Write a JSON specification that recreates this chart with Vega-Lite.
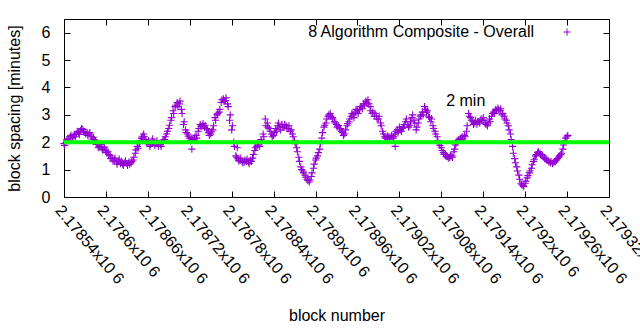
{
 "$schema": "https://vega.github.io/schema/vega-lite/v6.json",
 "width": 545,
 "height": 178,
 "autosize": {"type": "none"},
 "padding": {"left": 64, "top": 19, "right": 31, "bottom": 133},
 "background": "white",
 "config": {
  "font": "Liberation Sans",
  "view": {"stroke": "black", "strokeWidth": 1},
  "axis": {"grid": false, "domain": false, "tickColor": "black", "tickSize": -6, "labelColor": "black", "titleColor": "black", "labelFontSize": 16, "titleFontSize": 16, "titleFontWeight": "normal", "labelFont": "Liberation Sans", "titleFont": "Liberation Sans"},
  "legend": {"labelFont": "Liberation Sans", "labelFontSize": 16, "labelColor": "black"}
 },
 "layer": [
  {
   "data": {"values": [
  {"block":2178540,"spacing":1.95},{"block":2178543,"spacing":2.0},{"block":2178546,"spacing":2.12},{"block":2178549,"spacing":2.2},{"block":2178552,"spacing":2.15},{"block":2178555,"spacing":2.28},{"block":2178558,"spacing":2.3},{"block":2178561,"spacing":2.35},{"block":2178564,"spacing":2.42},{"block":2178567,"spacing":2.47},{"block":2178570,"spacing":2.38},{"block":2178573,"spacing":2.35},{"block":2178576,"spacing":2.3},{"block":2178579,"spacing":2.22},{"block":2178582,"spacing":2.18},{"block":2178585,"spacing":2.05},{"block":2178588,"spacing":1.95},{"block":2178591,"spacing":1.85},{"block":2178594,"spacing":1.8},{"block":2178597,"spacing":1.75},{"block":2178600,"spacing":1.7},{"block":2178603,"spacing":1.65},{"block":2178606,"spacing":1.5},{"block":2178609,"spacing":1.42},{"block":2178612,"spacing":1.35},{"block":2178615,"spacing":1.28},{"block":2178618,"spacing":1.3},{"block":2178621,"spacing":1.22},{"block":2178624,"spacing":1.2},{"block":2178627,"spacing":1.25},{"block":2178630,"spacing":1.22},{"block":2178633,"spacing":1.28},{"block":2178636,"spacing":1.25},{"block":2178639,"spacing":1.35},{"block":2178642,"spacing":1.6},{"block":2178645,"spacing":1.85},{"block":2178648,"spacing":1.95},{"block":2178651,"spacing":2.15},{"block":2178654,"spacing":2.3},{"block":2178657,"spacing":2.1},{"block":2178660,"spacing":1.95},{"block":2178663,"spacing":1.85},{"block":2178666,"spacing":2.05},{"block":2178669,"spacing":2.0},{"block":2178672,"spacing":1.95},{"block":2178675,"spacing":1.85},{"block":2178678,"spacing":1.92},{"block":2178681,"spacing":2.0},{"block":2178684,"spacing":2.1},{"block":2178687,"spacing":2.3},{"block":2178690,"spacing":2.5},{"block":2178693,"spacing":2.8},{"block":2178696,"spacing":3.15},{"block":2178699,"spacing":3.3},{"block":2178702,"spacing":3.45},{"block":2178705,"spacing":3.4},{"block":2178708,"spacing":3.2},{"block":2178711,"spacing":2.65},{"block":2178714,"spacing":2.45},{"block":2178717,"spacing":2.3},{"block":2178720,"spacing":2.15},{"block":2178723,"spacing":2.15},{"block":2178723,"spacing":1.75},{"block":2178726,"spacing":2.1},{"block":2178729,"spacing":2.25},{"block":2178732,"spacing":2.4},{"block":2178735,"spacing":2.65},{"block":2178738,"spacing":2.6},{"block":2178741,"spacing":2.55},{"block":2178744,"spacing":2.5},{"block":2178747,"spacing":2.35},{"block":2178750,"spacing":2.3},{"block":2178753,"spacing":2.45},{"block":2178756,"spacing":2.9},{"block":2178759,"spacing":3.0},{"block":2178762,"spacing":3.1},{"block":2178765,"spacing":3.45},{"block":2178768,"spacing":3.58},{"block":2178771,"spacing":3.52},{"block":2178774,"spacing":3.4},{"block":2178777,"spacing":2.8},{"block":2178780,"spacing":2.45},{"block":2178783,"spacing":2.0},{"block":2178786,"spacing":1.5},{"block":2178788,"spacing":1.8},{"block":2178789,"spacing":1.4},{"block":2178792,"spacing":1.35},{"block":2178795,"spacing":1.3},{"block":2178798,"spacing":1.27},{"block":2178801,"spacing":1.3},{"block":2178804,"spacing":1.28},{"block":2178807,"spacing":1.35},{"block":2178810,"spacing":1.42},{"block":2178813,"spacing":1.7},{"block":2178816,"spacing":1.85},{"block":2178819,"spacing":1.95},{"block":2178822,"spacing":2.1},{"block":2178825,"spacing":2.3},{"block":2178828,"spacing":2.85},{"block":2178831,"spacing":2.7},{"block":2178834,"spacing":2.5},{"block":2178837,"spacing":2.3},{"block":2178840,"spacing":2.25},{"block":2178843,"spacing":2.5},{"block":2178846,"spacing":2.6},{"block":2178849,"spacing":2.55},{"block":2178852,"spacing":2.65},{"block":2178855,"spacing":2.55},{"block":2178858,"spacing":2.6},{"block":2178861,"spacing":2.5},{"block":2178864,"spacing":2.4},{"block":2178867,"spacing":2.3},{"block":2178870,"spacing":2.05},{"block":2178873,"spacing":1.8},{"block":2178876,"spacing":1.45},{"block":2178879,"spacing":1.1},{"block":2178882,"spacing":0.95},{"block":2178885,"spacing":0.8},{"block":2178888,"spacing":0.65},{"block":2178891,"spacing":0.55},{"block":2178894,"spacing":0.75},{"block":2178897,"spacing":1.05},{"block":2178900,"spacing":1.35},{"block":2178903,"spacing":1.5},{"block":2178906,"spacing":1.75},{"block":2178909,"spacing":2.15},{"block":2178912,"spacing":2.55},{"block":2178915,"spacing":2.7},{"block":2178918,"spacing":2.95},{"block":2178921,"spacing":3.05},{"block":2178924,"spacing":2.9},{"block":2178927,"spacing":2.75},{"block":2178930,"spacing":2.65},{"block":2178933,"spacing":2.6},{"block":2178936,"spacing":2.5},{"block":2178939,"spacing":2.35},{"block":2178942,"spacing":2.3},{"block":2178945,"spacing":2.6},{"block":2178948,"spacing":2.75},{"block":2178951,"spacing":2.95},{"block":2178954,"spacing":3.0},{"block":2178957,"spacing":3.1},{"block":2178960,"spacing":3.15},{"block":2178963,"spacing":3.2},{"block":2178966,"spacing":3.3},{"block":2178969,"spacing":3.4},{"block":2178972,"spacing":3.5},{"block":2178975,"spacing":3.55},{"block":2178978,"spacing":3.3},{"block":2178981,"spacing":3.05},{"block":2178984,"spacing":2.95},{"block":2178987,"spacing":2.95},{"block":2178990,"spacing":2.85},{"block":2178993,"spacing":2.7},{"block":2178996,"spacing":2.4},{"block":2178999,"spacing":2.2},{"block":2179002,"spacing":2.15},{"block":2179005,"spacing":2.2},{"block":2179008,"spacing":2.2},{"block":2179011,"spacing":2.15},{"block":2179014,"spacing":2.3},{"block":2179014,"spacing":1.85},{"block":2179017,"spacing":2.45},{"block":2179020,"spacing":2.55},{"block":2179023,"spacing":2.4},{"block":2179026,"spacing":2.55},{"block":2179029,"spacing":2.75},{"block":2179032,"spacing":2.65},{"block":2179035,"spacing":2.6},{"block":2179038,"spacing":2.9},{"block":2179041,"spacing":2.8},{"block":2179044,"spacing":2.45},{"block":2179047,"spacing":2.7},{"block":2179050,"spacing":2.95},{"block":2179053,"spacing":3.1},{"block":2179056,"spacing":3.3},{"block":2179059,"spacing":3.1},{"block":2179062,"spacing":2.95},{"block":2179065,"spacing":2.75},{"block":2179068,"spacing":2.6},{"block":2179071,"spacing":2.4},{"block":2179074,"spacing":2.2},{"block":2179077,"spacing":1.95},{"block":2179080,"spacing":1.8},{"block":2179083,"spacing":1.62},{"block":2179086,"spacing":1.55},{"block":2179089,"spacing":1.48},{"block":2179092,"spacing":1.45},{"block":2179095,"spacing":1.5},{"block":2179098,"spacing":1.65},{"block":2179100,"spacing":1.9},{"block":2179101,"spacing":1.95},{"block":2179104,"spacing":2.05},{"block":2179107,"spacing":2.15},{"block":2179110,"spacing":2.2},{"block":2179113,"spacing":2.25},{"block":2179116,"spacing":2.4},{"block":2179119,"spacing":3.05},{"block":2179122,"spacing":2.9},{"block":2179125,"spacing":2.75},{"block":2179128,"spacing":2.7},{"block":2179131,"spacing":2.65},{"block":2179134,"spacing":2.75},{"block":2179137,"spacing":2.85},{"block":2179140,"spacing":2.9},{"block":2179143,"spacing":2.7},{"block":2179146,"spacing":2.6},{"block":2179149,"spacing":2.85},{"block":2179152,"spacing":2.95},{"block":2179155,"spacing":3.1},{"block":2179158,"spacing":3.2},{"block":2179161,"spacing":3.25},{"block":2179164,"spacing":3.15},{"block":2179167,"spacing":3.0},{"block":2179170,"spacing":2.95},{"block":2179173,"spacing":2.8},{"block":2179176,"spacing":2.6},{"block":2179179,"spacing":2.3},{"block":2179182,"spacing":1.85},{"block":2179185,"spacing":1.4},{"block":2179188,"spacing":1.1},{"block":2179191,"spacing":0.8},{"block":2179194,"spacing":0.5},{"block":2179197,"spacing":0.42},{"block":2179200,"spacing":0.5},{"block":2179203,"spacing":0.7},{"block":2179206,"spacing":0.88},{"block":2179209,"spacing":1.05},{"block":2179212,"spacing":1.3},{"block":2179215,"spacing":1.5},{"block":2179218,"spacing":1.62},{"block":2179221,"spacing":1.6},{"block":2179224,"spacing":1.55},{"block":2179227,"spacing":1.45},{"block":2179230,"spacing":1.38},{"block":2179233,"spacing":1.32},{"block":2179236,"spacing":1.25},{"block":2179239,"spacing":1.22},{"block":2179242,"spacing":1.3},{"block":2179245,"spacing":1.35},{"block":2179248,"spacing":1.45},{"block":2179251,"spacing":1.55},{"block":2179254,"spacing":1.75},{"block":2179257,"spacing":2.05},{"block":2179260,"spacing":2.2},
  {"block":2178541,"spacing":1.88},{"block":2178544,"spacing":2.1},{"block":2178547,"spacing":2.05},{"block":2178550,"spacing":2.25},{"block":2178553,"spacing":2.22},{"block":2178556,"spacing":2.2},{"block":2178559,"spacing":2.4},{"block":2178562,"spacing":2.28},{"block":2178565,"spacing":2.5},{"block":2178568,"spacing":2.38},{"block":2178571,"spacing":2.3},{"block":2178574,"spacing":2.25},{"block":2178577,"spacing":2.35},{"block":2178580,"spacing":2.12},{"block":2178583,"spacing":2.1},{"block":2178586,"spacing":1.92},{"block":2178589,"spacing":1.8},{"block":2178592,"spacing":1.92},{"block":2178595,"spacing":1.72},{"block":2178598,"spacing":1.82},{"block":2178601,"spacing":1.62},{"block":2178604,"spacing":1.55},{"block":2178607,"spacing":1.4},{"block":2178610,"spacing":1.32},{"block":2178613,"spacing":1.42},{"block":2178616,"spacing":1.2},{"block":2178619,"spacing":1.38},{"block":2178622,"spacing":1.3},{"block":2178625,"spacing":1.15},{"block":2178628,"spacing":1.32},{"block":2178631,"spacing":1.15},{"block":2178634,"spacing":1.2},{"block":2178637,"spacing":1.3},{"block":2178640,"spacing":1.45},{"block":2178643,"spacing":1.72},{"block":2178646,"spacing":1.78},{"block":2178649,"spacing":2.05},{"block":2178652,"spacing":2.22},{"block":2178655,"spacing":2.2},{"block":2178658,"spacing":2.0},{"block":2178661,"spacing":2.05},{"block":2178664,"spacing":1.92},{"block":2178667,"spacing":2.12},{"block":2178670,"spacing":1.88},{"block":2178673,"spacing":2.05},{"block":2178676,"spacing":1.95},{"block":2178679,"spacing":1.85},{"block":2178682,"spacing":2.08},{"block":2178685,"spacing":2.2},{"block":2178688,"spacing":2.4},{"block":2178691,"spacing":2.62},{"block":2178694,"spacing":2.9},{"block":2178697,"spacing":3.05},{"block":2178700,"spacing":3.35},{"block":2178703,"spacing":3.3},{"block":2178706,"spacing":3.5},{"block":2178709,"spacing":3.05},{"block":2178712,"spacing":2.75},{"block":2178715,"spacing":2.35},{"block":2178718,"spacing":2.22},{"block":2178721,"spacing":2.05},{"block":2178724,"spacing":2.08},{"block":2178727,"spacing":2.18},{"block":2178730,"spacing":2.15},{"block":2178733,"spacing":2.5},{"block":2178736,"spacing":2.58},{"block":2178739,"spacing":2.68},{"block":2178742,"spacing":2.62},{"block":2178745,"spacing":2.45},{"block":2178748,"spacing":2.25},{"block":2178751,"spacing":2.38},{"block":2178754,"spacing":2.6},{"block":2178757,"spacing":2.8},{"block":2178760,"spacing":3.05},{"block":2178763,"spacing":3.2},{"block":2178766,"spacing":3.55},{"block":2178769,"spacing":3.5},{"block":2178772,"spacing":3.62},{"block":2178775,"spacing":3.3},{"block":2178778,"spacing":3.0},{"block":2178781,"spacing":2.6},{"block":2178784,"spacing":1.85},{"block":2178787,"spacing":1.45},{"block":2178790,"spacing":1.32},{"block":2178793,"spacing":1.42},{"block":2178796,"spacing":1.25},{"block":2178799,"spacing":1.35},{"block":2178802,"spacing":1.38},{"block":2178805,"spacing":1.22},{"block":2178808,"spacing":1.3},{"block":2178811,"spacing":1.55},{"block":2178814,"spacing":1.8},{"block":2178817,"spacing":1.9},{"block":2178820,"spacing":1.85},{"block":2178823,"spacing":2.0},{"block":2178826,"spacing":2.2},{"block":2178829,"spacing":2.6},{"block":2178832,"spacing":2.55},{"block":2178835,"spacing":2.4},{"block":2178838,"spacing":2.2},{"block":2178841,"spacing":2.35},{"block":2178844,"spacing":2.4},{"block":2178847,"spacing":2.7},{"block":2178850,"spacing":2.45},{"block":2178853,"spacing":2.55},{"block":2178856,"spacing":2.65},{"block":2178859,"spacing":2.5},{"block":2178862,"spacing":2.6},{"block":2178865,"spacing":2.45},{"block":2178868,"spacing":2.2},{"block":2178871,"spacing":1.95},{"block":2178874,"spacing":1.65},{"block":2178877,"spacing":1.3},{"block":2178880,"spacing":1.0},{"block":2178883,"spacing":0.88},{"block":2178886,"spacing":0.72},{"block":2178889,"spacing":0.6},{"block":2178892,"spacing":0.62},{"block":2178895,"spacing":0.88},{"block":2178898,"spacing":1.2},{"block":2178901,"spacing":1.42},{"block":2178904,"spacing":1.62},{"block":2178907,"spacing":1.95},{"block":2178910,"spacing":2.35},{"block":2178913,"spacing":2.62},{"block":2178916,"spacing":2.85},{"block":2178919,"spacing":3.0},{"block":2178922,"spacing":2.95},{"block":2178925,"spacing":2.85},{"block":2178928,"spacing":2.7},{"block":2178931,"spacing":2.55},{"block":2178934,"spacing":2.5},{"block":2178937,"spacing":2.4},{"block":2178940,"spacing":2.25},{"block":2178943,"spacing":2.45},{"block":2178946,"spacing":2.68},{"block":2178949,"spacing":2.85},{"block":2178952,"spacing":3.05},{"block":2178955,"spacing":2.9},{"block":2178958,"spacing":3.2},{"block":2178961,"spacing":3.05},{"block":2178964,"spacing":3.3},{"block":2178967,"spacing":3.22},{"block":2178970,"spacing":3.35},{"block":2178973,"spacing":3.45},{"block":2178976,"spacing":3.4},{"block":2178979,"spacing":3.15},{"block":2178982,"spacing":3.1},{"block":2178985,"spacing":3.05},{"block":2178988,"spacing":2.85},{"block":2178991,"spacing":2.95},{"block":2178994,"spacing":2.6},{"block":2178997,"spacing":2.3},{"block":2179000,"spacing":2.15},{"block":2179003,"spacing":2.22},{"block":2179006,"spacing":2.12},{"block":2179009,"spacing":2.25},{"block":2179012,"spacing":2.2},{"block":2179015,"spacing":2.4},{"block":2179018,"spacing":2.35},{"block":2179021,"spacing":2.45},{"block":2179024,"spacing":2.5},{"block":2179027,"spacing":2.65},{"block":2179030,"spacing":2.85},{"block":2179033,"spacing":2.55},{"block":2179036,"spacing":2.75},{"block":2179039,"spacing":3.0},{"block":2179042,"spacing":2.7},{"block":2179045,"spacing":2.55},{"block":2179048,"spacing":2.85},{"block":2179051,"spacing":3.0},{"block":2179054,"spacing":3.0},{"block":2179057,"spacing":3.2},{"block":2179060,"spacing":3.15},{"block":2179063,"spacing":2.9},{"block":2179066,"spacing":2.85},{"block":2179069,"spacing":2.5},{"block":2179072,"spacing":2.3},{"block":2179075,"spacing":2.05},{"block":2179078,"spacing":1.88},{"block":2179081,"spacing":1.7},{"block":2179084,"spacing":1.55},{"block":2179087,"spacing":1.48},{"block":2179090,"spacing":1.42},{"block":2179093,"spacing":1.5},{"block":2179096,"spacing":1.45},{"block":2179099,"spacing":1.75},{"block":2179102,"spacing":2.0},{"block":2179105,"spacing":2.1},{"block":2179108,"spacing":2.08},{"block":2179111,"spacing":2.12},{"block":2179114,"spacing":2.2},{"block":2179117,"spacing":2.6},{"block":2179120,"spacing":2.95},{"block":2179123,"spacing":2.8},{"block":2179126,"spacing":2.65},{"block":2179129,"spacing":2.8},{"block":2179132,"spacing":2.75},{"block":2179135,"spacing":2.7},{"block":2179138,"spacing":2.8},{"block":2179141,"spacing":2.8},{"block":2179144,"spacing":2.65},{"block":2179147,"spacing":2.7},{"block":2179150,"spacing":2.75},{"block":2179153,"spacing":3.05},{"block":2179156,"spacing":3.05},{"block":2179159,"spacing":3.15},{"block":2179162,"spacing":3.18},{"block":2179165,"spacing":3.22},{"block":2179168,"spacing":3.05},{"block":2179171,"spacing":2.85},{"block":2179174,"spacing":2.7},{"block":2179177,"spacing":2.45},{"block":2179180,"spacing":2.1},{"block":2179183,"spacing":1.6},{"block":2179186,"spacing":1.25},{"block":2179189,"spacing":0.95},{"block":2179192,"spacing":0.65},{"block":2179195,"spacing":0.45},{"block":2179198,"spacing":0.38},{"block":2179201,"spacing":0.58},{"block":2179204,"spacing":0.78},{"block":2179207,"spacing":0.95},{"block":2179210,"spacing":1.18},{"block":2179213,"spacing":1.38},{"block":2179216,"spacing":1.55},{"block":2179219,"spacing":1.65},{"block":2179222,"spacing":1.55},{"block":2179225,"spacing":1.5},{"block":2179228,"spacing":1.4},{"block":2179231,"spacing":1.35},{"block":2179234,"spacing":1.28},{"block":2179237,"spacing":1.3},{"block":2179240,"spacing":1.25},{"block":2179243,"spacing":1.28},{"block":2179246,"spacing":1.4},{"block":2179249,"spacing":1.5},{"block":2179252,"spacing":1.6},{"block":2179255,"spacing":1.9},{"block":2179258,"spacing":2.15},{"block":2179261,"spacing":2.25}
   ]},
   "mark": {"type": "point", "shape": "M-1,0L1,0M0,-1L0,1", "filled": false, "strokeWidth": 1.1, "size": 52, "opacity": 1},
   "encoding": {
    "x": {"field": "block", "type": "quantitative", "scale": {"domain": [2178540, 2179320], "nice": false, "zero": false},
     "axis": {"values": [2178540,2178600,2178660,2178720,2178780,2178840,2178900,2178960,2179020,2179080,2179140,2179200,2179260,2179320],
      "labelExpr": "format(datum.value/1000000, '.6~g') + 'x10 6'", "labelAngle": 50, "labelAlign": "left", "labelBaseline": "top", "labelPadding": 11, "labelOverlap": false, "labelBound": false, "labelFlush": false,
      "title": "block number", "titleY": 123, "titleBaseline": "alphabetic"}},
    "y": {"field": "spacing", "type": "quantitative", "scale": {"domain": [0, 6.5], "nice": false, "zero": false},
     "axis": {"values": [0,1,2,3,4,5,6], "labelPadding": 20, "title": "block spacing [minutes]", "titleX": -45, "titleBaseline": "alphabetic"}},
    "color": {"datum": "8 Algorithm Composite - Overall", "scale": {"range": ["#9400d3"]},
     "legend": {"title": null, "orient": "none", "legendX": 495, "legendY": 5, "symbolType": "M-1,0L1,0M0,-1L0,1", "symbolSize": 50, "symbolStrokeWidth": 1, "labelAlign": "right", "labelOffset": -41, "labelLimit": 400}}
   }
  },
  {
   "data": {"values": [{"level": 2}]},
   "mark": {"type": "rule", "color": "#00ff00", "strokeWidth": 4},
   "encoding": {"y": {"field": "level", "type": "quantitative", "axis": null}}
  },
  {
   "data": {"values": [{"label": "2 min", "block": 2179115, "spacing": 3.52}]},
   "mark": {"type": "text", "fontSize": 16, "font": "Liberation Sans", "fill": "black", "align": "center", "baseline": "middle"},
   "encoding": {
    "text": {"field": "label"},
    "x": {"field": "block", "type": "quantitative", "axis": {"orient": "top", "values": [2178540,2178600,2178660,2178720,2178780,2178840,2178900,2178960,2179020,2179080,2179140,2179200,2179260,2179320], "labels": false, "title": null}},
    "y": {"field": "spacing", "type": "quantitative", "axis": {"orient": "right", "values": [0,1,2,3,4,5,6], "labels": false, "title": null}}
   }
  }
 ],
 "resolve": {"axis": {"x": "independent", "y": "independent"}}
}
